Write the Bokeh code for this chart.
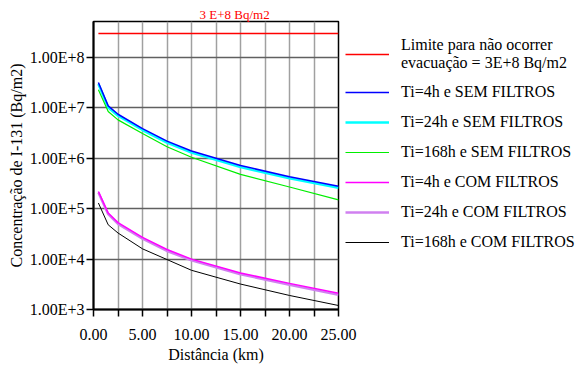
from bokeh.plotting import figure
from bokeh.models import (Range1d, FixedTicker, CustomJSTickFormatter, NumeralTickFormatter,
                          Legend, LegendItem, Title)
from bokeh.embed import file_html
from bokeh.resources import INLINE

# ---- data ----
distance_km = [0.5, 1.5, 2.5, 5.0, 7.5, 10.0, 15.0, 20.0, 25.0]
ti4_sem = [3.2e7, 1.1e7, 7.5e6, 3.9e6, 2.2e6, 1.4e6, 7.2e5, 4.3e5, 2.8e5]
ti24_sem = [3.0e7, 1.02e7, 7.0e6, 3.65e6, 2.05e6, 1.3e6, 6.7e5, 4.0e5, 2.6e5]
ti168_sem = [2.3e7, 8.5e6, 5.8e6, 3.1e6, 1.7e6, 1.05e6, 4.8e5, 2.7e5, 1.5e5]
ti4_com = [2.2e5, 8.2e4, 5.3e4, 2.7e4, 1.55e4, 1.0e4, 5.3e3, 3.3e3, 2.1e3]
ti24_com = [2.1e5, 7.8e4, 5.0e4, 2.55e4, 1.45e4, 9.5e3, 5.0e3, 3.1e3, 1.95e3]
ti168_com = [1.3e5, 4.8e4, 3.3e4, 1.6e4, 9.8e3, 6.0e3, 3.2e3, 1.9e3, 1.2e3]
limit_x = [0.5, 25.0]
limit_y = [3e8, 3e8]

x_ticks = [0, 5, 10, 15, 20, 25]
x_minor_ticks = [2.5, 7.5, 12.5, 17.5, 22.5]
y_ticks = [1e3, 1e4, 1e5, 1e6, 1e7, 1e8]

labels = ["Ti=4h e SEM FILTROS", "Ti=24h e SEM FILTROS", "Ti=168h e SEM FILTROS",
          "Ti=4h e COM FILTROS", "Ti=24h e COM FILTROS", "Ti=168h e COM FILTROS"]
limit_label = "Limite para não ocorrer\nevacuação = 3E+8 Bq/m2"
limit_note = "3 E+8 Bq/m2"

FONT = "'Liberation Serif', 'Times New Roman', serif"

p = figure(frame_width=245, frame_height=288, x_range=Range1d(0, 25), y_range=Range1d(1e3, 5.2e8),
           y_axis_type="log", output_backend="svg", toolbar_location=None,
           min_border_left=93, min_border_right=0, min_border_top=21, min_border_bottom=58)

p.title = Title(text=limit_note, align="left", offset=106, text_font=FONT,
                text_font_size="13px", text_font_style="normal", text_color="#ff0000",
                standoff=0)

p.background_fill_color = "white"
p.border_fill_color = "white"
p.outline_line_color = "black"
p.outline_line_width = 1.5

# grids
p.xgrid.ticker = FixedTicker(ticks=x_ticks, minor_ticks=x_minor_ticks)
p.xgrid.grid_line_color = "#a0a0a0"
p.xgrid.grid_line_width = 1.5
p.xgrid.minor_grid_line_color = "#a0a0a0"
p.xgrid.minor_grid_line_width = 1.5
p.ygrid.ticker = FixedTicker(ticks=y_ticks)
p.ygrid.grid_line_color = "#606060"
p.ygrid.grid_line_width = 1.5

# axes
p.xaxis.ticker = FixedTicker(ticks=x_ticks, minor_ticks=x_minor_ticks)
p.xaxis.formatter = NumeralTickFormatter(format="0.00")
p.yaxis.ticker = FixedTicker(ticks=y_ticks)
p.yaxis.formatter = CustomJSTickFormatter(code="return '1.00E+' + Math.round(Math.log10(tick));")
for ax in (p.xaxis[0], p.yaxis[0]):
    ax.axis_line_color = "black"
    ax.axis_line_width = 2
    ax.major_tick_line_color = "black"
    ax.major_tick_line_width = 1.5
    ax.major_tick_out = 7
    ax.major_tick_in = 0
    ax.major_label_text_font = FONT
    ax.major_label_text_font_size = "16px"
    ax.major_label_text_color = "black"
    ax.axis_label_text_font = FONT
    ax.axis_label_text_font_size = "16px"
    ax.axis_label_text_font_style = "normal"
    ax.axis_label_text_color = "black"
p.xaxis.minor_tick_line_color = "black"
p.xaxis.minor_tick_line_width = 1.5
p.xaxis.minor_tick_out = 7
p.xaxis.minor_tick_in = 0
p.yaxis.minor_tick_line_color = None
p.xaxis.major_label_standoff = 12
p.xaxis.axis_label_standoff = 3
p.yaxis.major_label_standoff = 2
p.yaxis.axis_label_standoff = 2
p.xaxis.axis_label = "Distância (km)"
p.yaxis.axis_label = "Concentração de I-131 (Bq/m2)"

# lines
r_limit = p.line(limit_x, limit_y, line_color="#ff0000", line_width=1.5)
r1 = p.line(distance_km, ti24_sem, line_color="#00ffff", line_width=2.5)
r0 = p.line(distance_km, ti4_sem, line_color="#0000ff", line_width=1.5)
r2 = p.line(distance_km, ti168_sem, line_color="#00ee00", line_width=1.2)
r4 = p.line(distance_km, ti24_com, line_color="#d080f0", line_width=2.5)
r3 = p.line(distance_km, ti4_com, line_color="#ff00ff", line_width=1.5)
r5 = p.line(distance_km, ti168_com, line_color="black", line_width=1)

legend = Legend(items=[LegendItem(label=limit_label, renderers=[r_limit]),
                       LegendItem(label=labels[0], renderers=[r0]),
                       LegendItem(label=labels[1], renderers=[r1]),
                       LegendItem(label=labels[2], renderers=[r2]),
                       LegendItem(label=labels[3], renderers=[r3]),
                       LegendItem(label=labels[4], renderers=[r4]),
                       LegendItem(label=labels[5], renderers=[r5])],
                location=(7, 57), orientation="vertical",
                label_text_font=FONT, label_text_font_size="16px", label_text_color="black",
                glyph_width=44, glyph_height=20, label_height=20, label_standoff=12,
                spacing=10, padding=6, margin=0,
                border_line_color=None, background_fill_alpha=0)
p.add_layout(legend, "right")

open("out.html", "w").write(file_html(p, INLINE))
